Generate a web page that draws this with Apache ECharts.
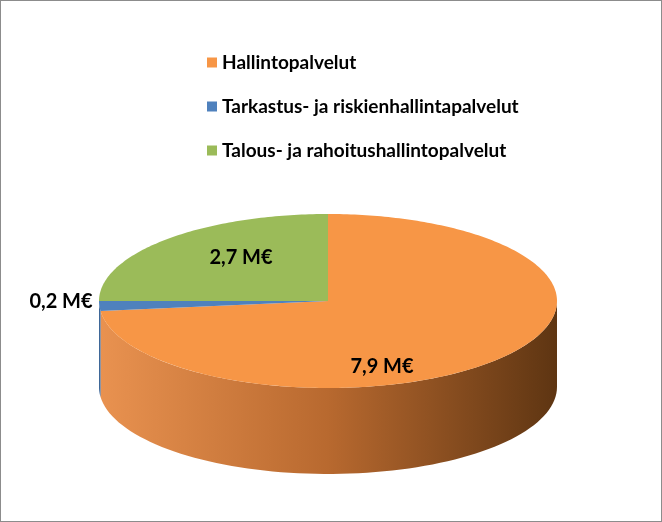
<!DOCTYPE html>
<html><head><meta charset="utf-8">
<script src="https://cdn.jsdelivr.net/npm/echarts@6/dist/echarts.min.js"></script>
<style>html,body{margin:0;padding:0;background:#fff}#c{width:662px;height:522px;box-sizing:border-box;border:1px solid #8c8c8c}</style>
</head><body><div id="c"></div>
<script>
const categories = ['Hallintopalvelut','Tarkastus- ja riskienhallintapalvelut','Talous- ja rahoitushallintopalvelut'];
const values = [7.9, 0.2, 2.7];
const labels = ['7,9 M€','0,2 M€','2,7 M€'];
const topColors = ['#F79646','#4F81BD','#9BBB59'];
const sideColors = [['#E99250','#B8692F','#5E3512'],['#3E6798','#3E6798','#3E6798'],['#7A9543','#7A9543','#7A9543']];
const labelPos = [[381,366],[60,301],[240,257]];

const cx=327, cy=300, rx=229, ry=87, depth=86;
const total = values.reduce((a,b)=>a+b,0);
function pt(t,dy){return [cx+rx*Math.sin(t), cy-ry*Math.cos(t)+(dy||0)];}
const chart = echarts.init(document.getElementById('c'));
let acc=0;
const series = categories.map((name,i)=>{
  const a0 = acc/total*2*Math.PI; acc+=values[i]; const a1 = acc/total*2*Math.PI;
  return {
    type:'custom', name, coordinateSystem:'none', data:[[i]],
    itemStyle:{color:topColors[i]},
    renderItem:function(){
      const children=[];
      const s0=Math.max(a0,Math.PI/2), s1=Math.min(a1,3*Math.PI/2);
      if(s1>s0){
        const pts=[];const n=80;
        for(let k=0;k<=n;k++)pts.push(pt(s0+(s1-s0)*k/n));
        for(let k=n;k>=0;k--)pts.push(pt(s0+(s1-s0)*k/n,depth));
        children.push({type:'polygon',shape:{points:pts},style:{fill:{type:'linear',global:true,x:cx-rx,y:0,x2:cx+rx,y2:0,colorStops:[{offset:0,color:sideColors[i][0]},{offset:0.5,color:sideColors[i][1]},{offset:1,color:sideColors[i][2]}]}}});
      }
      const tp=[[cx,cy]];const n=Math.max(4,Math.ceil((a1-a0)*60));
      for(let k=0;k<=n;k++)tp.push(pt(a0+(a1-a0)*k/n));
      children.push({type:'polygon',shape:{points:tp},style:{fill:topColors[i]}});
      const lp=labelPos[i];
      children.push({type:'text',style:{text:labels[i],x:lp[0],y:lp[1],align:'center',verticalAlign:'middle',font:'bold 20px Lato, sans-serif',fill:'#000'}});
      return {type:'group',children};
    }
  };
});
chart.setOption({
  animation:false,
  legend:{orient:'vertical',left:201,top:47,itemGap:25,itemWidth:10,itemHeight:10,icon:'rect',
    textStyle:{fontSize:19,fontFamily:'Lato, sans-serif',fontWeight:'bold',color:'#000'},data:categories},
  series
});
</script></body></html>
